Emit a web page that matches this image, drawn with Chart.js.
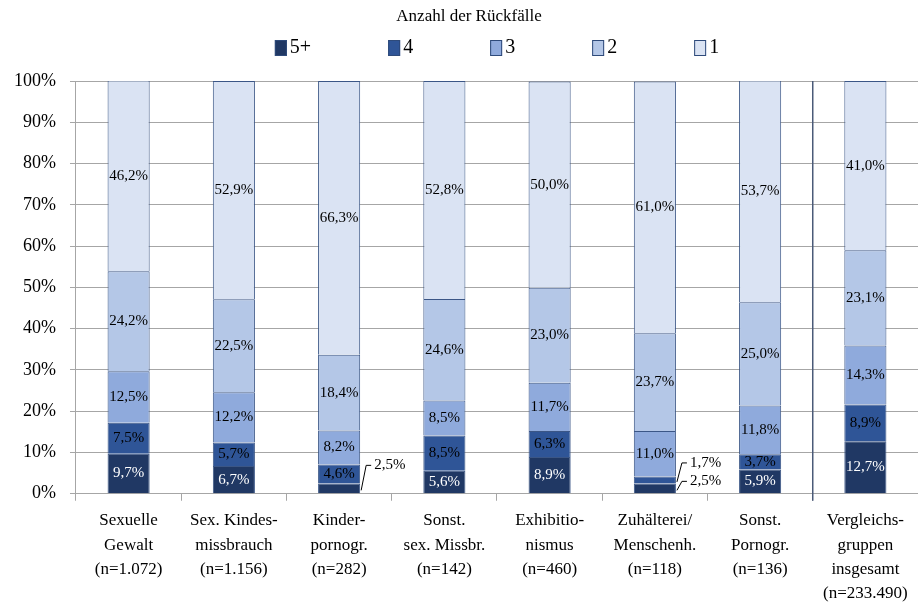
<!DOCTYPE html>
<html>
<head>
<meta charset="utf-8">
<script src="https://cdn.jsdelivr.net/npm/chart.js@4"></script>
<style>
    body { margin: 0; background: #fff; }
    #wrap { width: 918px; height: 608px; }
</style>
</head>
<body>
<div id="wrap"><canvas id="recidChart" width="918" height="608"></canvas></div>
<script>
const categories = [
    ['Sexuelle', 'Gewalt', '(n=1.072)'],
    ['Sex. Kindes-', 'missbrauch', '(n=1.156)'],
    ['Kinder-', 'pornogr.', '(n=282)'],
    ['Sonst.', 'sex. Missbr.', '(n=142)'],
    ['Exhibitio-', 'nismus', '(n=460)'],
    ['Zuhälterei/', 'Menschenh.', '(n=118)'],
    ['Sonst.', 'Pornogr.', '(n=136)'],
    ['Vergleichs-', 'gruppen', 'insgesamt', '(n=233.490)']
];
const seriesNames = ['5+', '4', '3', '2', '1'];
const fivePlus = [9.7, 6.7, 2.5, 5.6, 8.9, 2.5, 5.9, 12.7];
const four = [7.5, 5.7, 4.6, 8.5, 6.3, 1.7, 3.7, 8.9];
const three = [12.5, 12.2, 8.2, 8.5, 11.7, 11.0, 11.8, 14.3];
const two = [24.2, 22.5, 18.4, 24.6, 23.0, 23.7, 25.0, 23.1];
const one = [46.2, 52.9, 66.3, 52.8, 50.0, 61.0, 53.7, 41.0];
const yTicks = [0, 10, 20, 30, 40, 50, 60, 70, 80, 90, 100];

const colors = ['#203864', '#2f5597', '#8faadc', '#b4c7e7', '#dae3f3'];
const FONT = '"Liberation Serif", "Times New Roman", serif';

const fmt = v => v.toFixed(1).replace('.', ',') + '%';

// labels inside the segments, small ones outside with a leader line
const segmentLabels = {
    id: 'segmentLabels',
    afterDatasetsDraw(chart) {
        const ctx = chart.ctx;
        ctx.save();
        ctx.font = '15px ' + FONT;
        ctx.textBaseline = 'middle';
        const smallCount = {};
        chart.data.datasets.forEach((ds, di) => {
            const meta = chart.getDatasetMeta(di);
            meta.data.forEach((bar, i) => {
                const v = ds.data[i];
                const midY = (bar.y + bar.base) / 2;
                if (v < 3) {
                    const k = smallCount[i] || 0;
                    smallCount[i] = k + 1;
                    const nSmall = chart.data.datasets.filter(d => d.data[i] < 3).length;
                    const lift = nSmall > 1 ? 7 + 10 * k : 23;
                    const right = bar.x + bar.width / 2;
                    const ly = midY - lift;
                    ctx.strokeStyle = '#000';
                    ctx.lineWidth = 1;
                    ctx.beginPath();
                    ctx.moveTo(right + 1, midY + 2);
                    ctx.lineTo(right + 6, ly);
                    ctx.lineTo(right + 11, ly);
                    ctx.stroke();
                    ctx.fillStyle = '#000';
                    ctx.textAlign = 'left';
                    ctx.fillText(fmt(v), right + 14, ly);
                } else {
                    ctx.fillStyle = di === 0 ? '#fff' : '#000';
                    ctx.textAlign = 'center';
                    ctx.fillText(fmt(v), bar.x, midY);
                }
            });
        });
        ctx.restore();
    }
};

// vertical separator before the comparison group
const separator = {
    id: 'separator',
    afterDatasetsDraw(chart) {
        const x = chart.scales.x;
        const area = chart.chartArea;
        const px = (x.getPixelForValue(6) + x.getPixelForValue(7)) / 2;
        const ctx = chart.ctx;
        ctx.save();
        ctx.strokeStyle = '#4a5a78';
        ctx.lineWidth = 1.5;
        ctx.beginPath();
        ctx.moveTo(px, area.top);
        ctx.lineTo(px, area.bottom + 7);
        ctx.stroke();
        ctx.restore();
    }
};

// title + legend above the plot
const headLegend = {
    id: 'headLegend',
    afterDraw(chart) {
        const ctx = chart.ctx;
        const area = chart.chartArea;
        ctx.save();
        ctx.fillStyle = '#000';
        ctx.textBaseline = 'middle';
        ctx.textAlign = 'center';
        ctx.font = '17px ' + FONT;
        ctx.fillText('Anzahl der Rückfälle', chart.width / 2 + 10, 17);

        ctx.font = '20px ' + FONT;
        ctx.textAlign = 'left';
        const boxW = 12, boxH = 16, gap = 3, extra = 77;
        const widths = seriesNames.map(n => boxW + gap + ctx.measureText(n).width + extra);
        const total = widths.reduce((a, b) => a + b, 0) - extra;
        let x = (area.left + area.right) / 2 - total / 2;
        const y = 48;
        seriesNames.forEach((n, i) => {
            ctx.fillStyle = colors[i];
            ctx.fillRect(x, y - boxH / 2, boxW, boxH);
            ctx.strokeStyle = '#2e4a7a';
            ctx.lineWidth = 1;
            ctx.strokeRect(x + 0.5, y - boxH / 2 + 0.5, boxW - 1, boxH - 1);
            ctx.fillStyle = '#000';
            ctx.fillText(n, x + boxW + gap, y);
            x += widths[i];
        });
        ctx.restore();
    }
};

const seriesData = [fivePlus, four, three, two, one];

new Chart(document.getElementById('recidChart'), {
    type: 'bar',
    data: {
        labels: categories,
        datasets: seriesNames.map((name, i) => ({
            label: name,
            data: seriesData[i],
            backgroundColor: colors[i],
            borderColor: '#3b5686',
            borderWidth: 1,
            barPercentage: 0.4,
            categoryPercentage: 1
        }))
    },
    options: {
        responsive: false,
        animation: false,
        layout: { padding: { top: 81, left: 0, right: 0, bottom: 0 } },
        plugins: {
            legend: { display: false },
            title: { display: false },
            tooltip: { enabled: false }
        },
        scales: {
            x: {
                stacked: true,
                afterFit: axis => { axis.height -= 6; },
                grid: { drawOnChartArea: false, color: '#a6a6a6', tickLength: 7, offset: true },
                border: { color: '#a6a6a6' },
                ticks: {
                    color: '#000',
                    font: { family: FONT, size: 17, lineHeight: 1.43 },
                    maxRotation: 0,
                    autoSkip: false,
                    padding: 8
                }
            },
            y: {
                stacked: true,
                min: 0,
                max: 100,
                afterBuildTicks: axis => { axis.ticks = yTicks.map(v => ({ value: v })); },
                grid: { color: '#a6a6a6', tickLength: 6 },
                border: { color: '#a6a6a6' },
                ticks: {
                    color: '#000',
                    font: { family: FONT, size: 18 },
                    padding: 14,
                    callback: v => v + '%'
                }
            }
        }
    },
    plugins: [segmentLabels, separator, headLegend]
});
</script>
</body>
</html>
